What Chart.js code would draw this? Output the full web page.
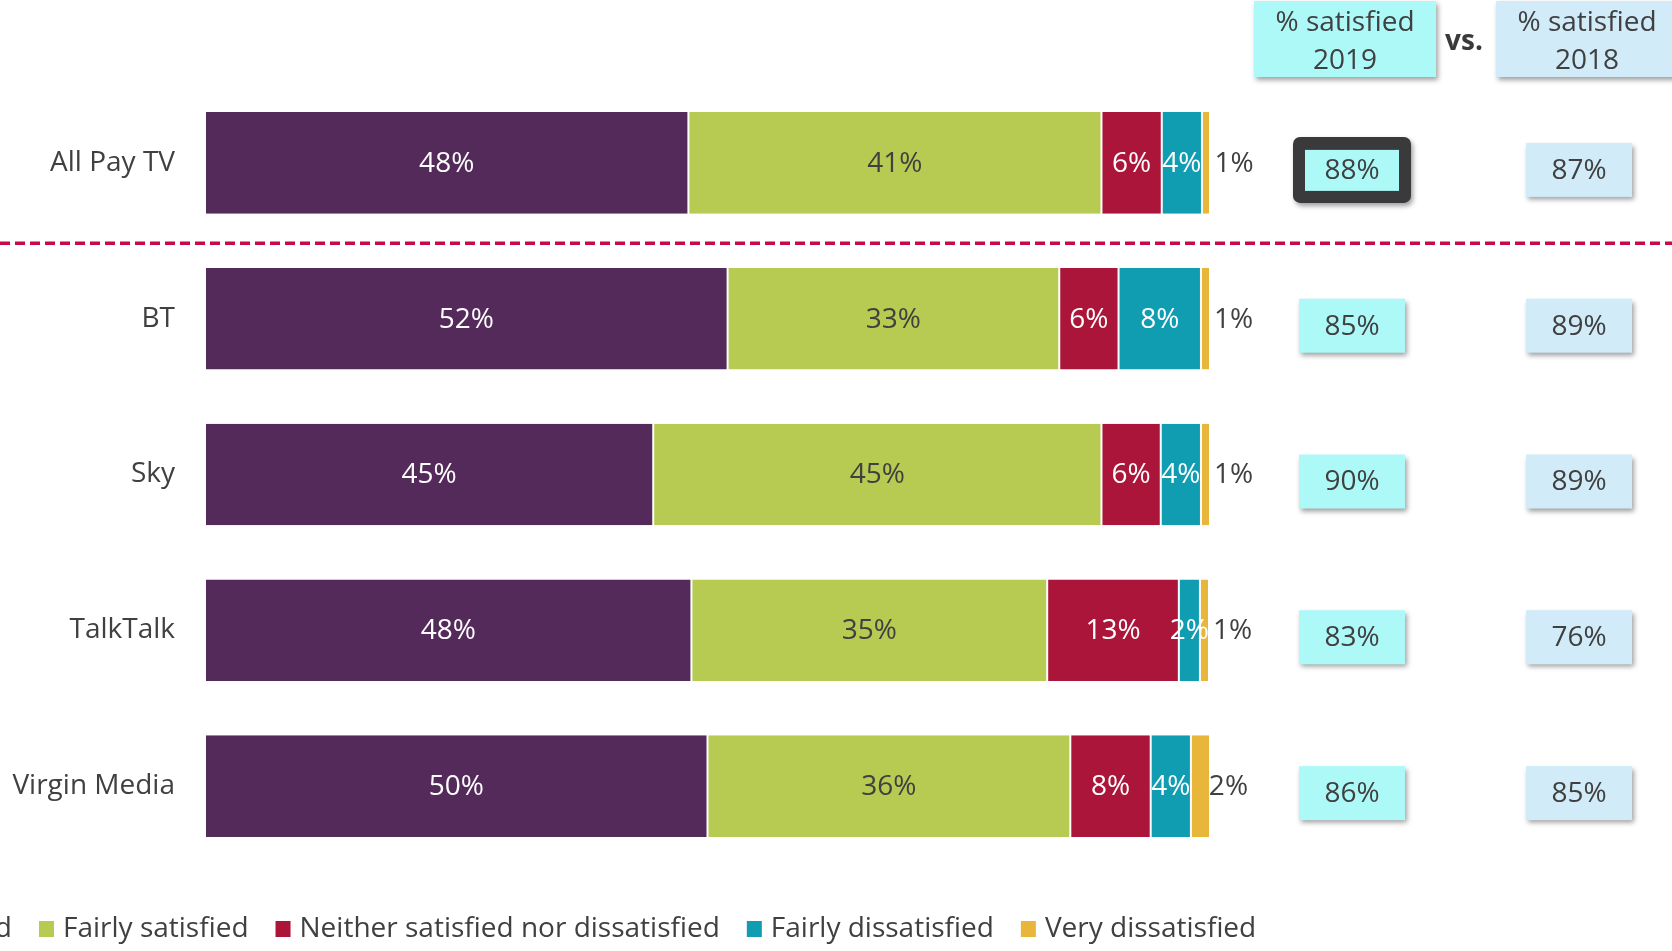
<!DOCTYPE html>
<html>
<head>
<meta charset="utf-8">
<script src="https://cdn.jsdelivr.net/npm/chart.js@4/dist/chart.umd.min.js"></script>
<style>
html,body{margin:0;padding:0;background:#fff;overflow:hidden;}
canvas{display:block;}
</style>
</head>
<body>
<canvas id="c" width="1672" height="951"></canvas>
<script>
// ---- data ----
const categories = ["All Pay TV", "BT", "Sky", "TalkTalk", "Virgin Media"];
const seriesNames = ["Very satisfied", "Fairly satisfied", "Neither satisfied nor dissatisfied", "Fairly dissatisfied", "Very dissatisfied"];
const verySatisfied   = [48.1, 52.0, 44.6, 48.4, 50.0];
const fairlySatisfied = [41.1, 33.0, 44.6, 35.4, 36.1];
const neither         = [6.0, 5.9, 5.9, 13.1, 8.0];
const fairlyDissat    = [4.0, 8.2, 4.0, 2.1, 4.0];
const veryDissat      = [0.8, 0.9, 0.9, 0.9, 1.9];
const satisfied2019   = [88, 85, 90, 83, 86];
const satisfied2018   = [87, 89, 89, 76, 85];
const headerLabels    = [["% satisfied", "2019"], ["% satisfied", "2018"]];
const vsLabel = "vs.";

// ---- styles ----
const FONT = "'Open Sans', 'Noto Sans', sans-serif";
const TEXT = "#404040";
const colors = ["#542a5a", "#b7ca52", "#ac153a", "#109cb1", "#e8b63a"];
const labelColors = ["#ffffff", TEXT, "#ffffff", "#ffffff", TEXT];
const seriesValues = [verySatisfied, fairlySatisfied, neither, fairlyDissat, veryDissat];

Chart.defaults.font.family = FONT;

const datasets = seriesValues.map((vals, i) => ({
  label: seriesNames[i],
  data: vals,
  backgroundColor: colors[i],
  borderColor: "#ffffff",
  borderWidth: {left: 1, right: 1, top: 0, bottom: 0},
  borderSkipped: false,
  barPercentage: 0.652,
  categoryPercentage: 1.0
}));

function shadowOn(ctx){
  ctx.shadowColor = "rgba(0,0,0,0.38)";
  ctx.shadowBlur = 5;
  ctx.shadowOffsetX = 2;
  ctx.shadowOffsetY = 3;
}
function shadowOff(ctx){
  ctx.shadowColor = "rgba(0,0,0,0)";
  ctx.shadowBlur = 0;
  ctx.shadowOffsetX = 0;
  ctx.shadowOffsetY = 0;
}

const decorPlugin = {
  id: "decor",
  afterDatasetsDraw(chart){
    const ctx = chart.ctx;
    const y = chart.scales.y;
    // segment labels
    ctx.save();
    ctx.font = "28px " + FONT;
    ctx.textBaseline = "middle";
    ctx.textAlign = "center";
    chart.data.datasets.forEach((ds, di) => {
      const meta = chart.getDatasetMeta(di);
      meta.data.forEach((bar, j) => {
        const v = ds.data[j];
        let cx = (bar.x + bar.base) / 2;
        if (di === 4) cx += 28;
        ctx.fillStyle = labelColors[di];
        ctx.fillText(Math.round(v) + "%", cx, bar.y + 1);
      });
    });
    ctx.restore();

    // dashed separator between first and second category
    ctx.save();
    const ySep = (y.getPixelForValue(0) + y.getPixelForValue(1)) / 2 + 2.5;
    ctx.strokeStyle = "#c80a4b";
    ctx.lineWidth = 3.5;
    ctx.setLineDash([10, 5]);
    ctx.beginPath();
    ctx.moveTo(0, ySep);
    ctx.lineTo(chart.width, ySep);
    ctx.stroke();
    ctx.restore();

    // header boxes
    ctx.save();
    const hdr = [{x: 1254, w: 182, fill: "#adf9f8"}, {x: 1496, w: 184, fill: "#d1ebf8"}];
    hdr.forEach((h, k) => {
      shadowOn(ctx);
      ctx.fillStyle = h.fill;
      ctx.fillRect(h.x, 1, h.w, 76);
      shadowOff(ctx);
      ctx.fillStyle = TEXT;
      ctx.font = "28px " + FONT;
      ctx.textAlign = "center";
      ctx.textBaseline = "middle";
      const cx = k === 0 ? h.x + h.w / 2 : 1587;
      ctx.fillText(headerLabels[k][0], cx, 23);
      ctx.fillText(headerLabels[k][1], cx, 61);
    });
    ctx.font = "bold 28px " + FONT;
    ctx.fillStyle = "#3a3a3a";
    ctx.textAlign = "center";
    ctx.textBaseline = "middle";
    ctx.fillText(vsLabel, 1464, 42);
    ctx.restore();

    // value boxes
    ctx.save();
    ctx.font = "28px " + FONT;
    ctx.textAlign = "center";
    ctx.textBaseline = "middle";
    categories.forEach((c, j) => {
      const cy = y.getPixelForValue(j) + 7;
      // 2019
      if (j === 0) {
        shadowOn(ctx);
        ctx.fillStyle = "#3a3a3c";
        ctx.beginPath();
        ctx.roundRect(1293, cy - 33, 118, 66, 7);
        ctx.fill();
        shadowOff(ctx);
        ctx.fillStyle = "#adf9f8";
        ctx.fillRect(1305, cy - 20, 94, 41);
      } else {
        shadowOn(ctx);
        ctx.fillStyle = "#adf9f8";
        ctx.fillRect(1299, cy - 27, 106, 54);
        shadowOff(ctx);
      }
      ctx.fillStyle = TEXT;
      ctx.fillText(satisfied2019[j] + "%", 1352, cy + 1);
      // 2018
      shadowOn(ctx);
      ctx.fillStyle = "#d1ebf8";
      ctx.fillRect(1526, cy - 27, 106, 54);
      shadowOff(ctx);
      ctx.fillStyle = TEXT;
      ctx.fillText(satisfied2018[j] + "%", 1579, cy + 1);
    });
    ctx.restore();

    // legend (runs off the left edge like the reference)
    ctx.save();
    ctx.font = "28px " + FONT;
    ctx.textBaseline = "middle";
    ctx.textAlign = "left";
    const box = 15, gapText = 9, gapItem = 27, ly = 929;
    const firstW = ctx.measureText(seriesNames[0]).width;
    let x = 39 - (box + gapText + firstW + gapItem);
    seriesNames.forEach((n, i) => {
      ctx.fillStyle = colors[i];
      ctx.fillRect(x, ly - 8, box, 16);
      ctx.fillStyle = TEXT;
      ctx.fillText(n, x + box + gapText, ly);
      x += box + gapText + ctx.measureText(n).width + gapItem;
    });
    ctx.restore();
  }
};

new Chart(document.getElementById("c"), {
  type: "bar",
  data: { labels: categories, datasets },
  options: {
    indexAxis: "y",
    responsive: false,
    animation: false,
    layout: { padding: { top: 85, bottom: 87, left: 0, right: 462 } },
    plugins: { legend: { display: false }, tooltip: { enabled: false } },
    scales: {
      x: { stacked: true, min: 0, max: 100, display: false },
      y: {
        stacked: true,
        grid: { display: false },
        border: { display: false },
        ticks: { color: TEXT, font: { size: 28, family: FONT }, padding: 22 },
        afterFit(scale) { scale.width = 205; }
      }
    }
  },
  plugins: [decorPlugin]
});
</script>
</body>
</html>
